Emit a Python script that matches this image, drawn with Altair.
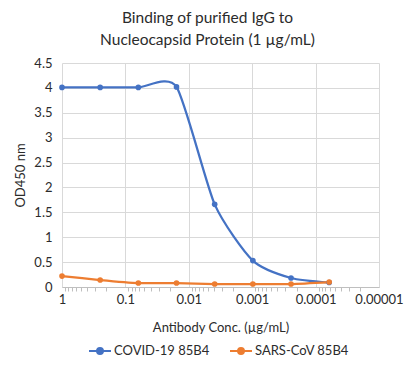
import altair as alt
import pandas as pd

conc = [1, 0.25, 0.0625, 0.015625, 0.00390625, 0.0009765625, 0.000244140625, 0.00006103515625]
covid = [4.01, 4.01, 4.01, 4.02, 1.66, 0.53, 0.18, 0.09]
sars = [0.22, 0.14, 0.08, 0.08, 0.06, 0.06, 0.06, 0.10]
series_names = ["COVID-19 85B4", "SARS-CoV 85B4"]
colors = ["#4472C4", "#ED7D31"]

major_ticks = [1, 0.1, 0.01, 0.001, 0.0001, 0.00001]
minor_ticks = []
for d in major_ticks[1:]:
    for m in range(2, 10):
        minor_ticks.append(round(m * d, 10))
y_ticks = [0, 0.5, 1, 1.5, 2, 2.5, 3, 3.5, 4, 4.5]

rows = []
for c, v in zip(conc, covid):
    rows.append({"conc": c, "od": v, "series": series_names[0]})
for c, v in zip(conc, sars):
    rows.append({"conc": c, "od": v, "series": series_names[1]})
df = pd.DataFrame(rows)

FONT = "Lato"
TXT = "#2b2b2b"
is_major = "abs(log(datum.value)/LN10 - round(log(datum.value)/LN10)) < 0.000001"

x_enc = alt.X(
    "conc:Q",
    scale=alt.Scale(type="log", domain=[0.00001, 1], reverse=True, nice=False),
    axis=alt.Axis(
        title="Antibody Conc. (µg/mL)",
        values=major_ticks + minor_ticks,
        labelExpr=f"({is_major}) ? format(datum.value, '.5~f') : ''",
        labelOverlap=False,
        labelFlush=False,
        gridOpacity={"condition": {"test": is_major, "value": 1}, "value": 0},
        tickSize={"condition": {"test": is_major, "value": 0}, "value": 4},
        gridColor="#d9d9d9",
        domainColor="#bfbfbf",
        tickColor="#bfbfbf",
        labelPadding=6,
        titlePadding=11,
    ),
)
y_enc = alt.Y(
    "od:Q",
    scale=alt.Scale(domain=[0, 4.5], nice=False),
    axis=alt.Axis(
        title="OD450 nm",
        values=y_ticks,
        format=".1~f",
        labelOverlap=False,
        domain=False,
        ticks=False,
        gridColor="#d9d9d9",
        labelPadding=10,
        titlePadding=6,
    ),
)
color_enc = alt.Color(
    "series:N",
    scale=alt.Scale(domain=series_names, range=colors),
    legend=alt.Legend(
        title=None,
        orient="none",
        direction="horizontal",
        legendX=26,
        legendY=276,
        columns=2,
        columnPadding=16,
        labelOffset=2,
        padding=0,
        symbolType="M-1,0L-0.27,0M0.27,0L1,0M-0.27,0A0.27,0.27,0,1,1,0.27,0A0.27,0.27,0,1,1,-0.27,0Z",
        symbolSize=484,
        symbolStrokeWidth=2,
        labelFontSize=13,
        labelFont=FONT,
        labelColor=TXT,
    ),
)

base = alt.Chart(df).encode(x=x_enc, y=y_enc, color=color_enc)
lines = base.mark_line(interpolate="cardinal", tension=0.35, strokeWidth=2.25)
points = base.mark_point(filled=True, size=32, opacity=1)

chart = (
    alt.layer(lines, points)
    .properties(
        width=317,
        height=224,
        autosize=alt.AutoSizeParams(type="none"),
        padding={"left": 54, "top": 55, "right": 27, "bottom": 81},
        background="white",
        title=alt.TitleParams(
            text=["Binding of purified IgG to", "Nucleocapsid Protein (1 µg/mL)"],
            fontSize=15.5,
            font=FONT,
            fontWeight="normal",
            color=TXT,
            anchor="middle",
            dx=-13,
            offset=9,
            lineHeight=22,
        ),
    )
    .configure_view(stroke=None)
    .configure_axis(
        labelFont=FONT,
        titleFont=FONT,
        labelFontSize=13,
        titleFontSize=13,
        labelColor=TXT,
        titleColor=TXT,
        titleFontWeight="normal",
    )
)

chart.save("out.html", embed_options={"renderer": "svg", "actions": False})
